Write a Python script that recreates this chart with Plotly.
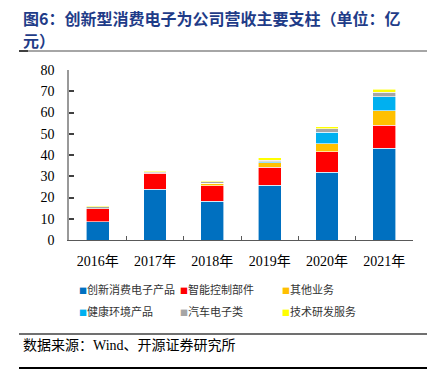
import plotly.graph_objects as go

years = ["2016年", "2017年", "2018年", "2019年", "2020年", "2021年"]
series_names = ["创新消费电子产品", "智能控制部件", "其他业务", "健康环境产品", "汽车电子类", "技术研发服务"]
consumer = [8.6, 23.8, 18.2, 25.7, 31.9, 43.1]
smart_ctrl = [6.0, 7.6, 7.4, 8.5, 9.7, 10.9]
other = [0.2, 0.2, 1.0, 2.2, 3.7, 6.8]
health = [0.0, 0.0, 0.1, 0.4, 5.4, 6.6]
auto = [0.9, 0.5, 0.6, 0.8, 1.7, 2.2]
rnd = [0.4, 0.6, 0.5, 1.0, 0.8, 1.3]
y_ticks = [0, 10, 20, 30, 40, 50, 60, 70, 80]

colors = ["#0070C0", "#FF0000", "#FFC000", "#00B0F0", "#A5A5A5", "#FFFF00"]
values = [consumer, smart_ctrl, other, health, auto, rnd]

# page has an 8px body margin; figure is sized so the whole page fits the window
OFF = 8
W, H = 435 - OFF, 374 - OFF
PL, PR, PT, PB = 69, 413, 70, 240          # plot area in screen pixels
L, R, T, B = PL - OFF, 435 - PR, PT - OFF, 374 - PB
pw, ph = PR - PL, PB - PT

def px(x):
    return (x - PL) / pw

def py(y):
    return (PB - y) / ph

fig = go.Figure()
for name, vals, col in zip(series_names, values, colors):
    fig.add_trace(go.Bar(x=years, y=vals, name=name,
                         marker=dict(color=col, line=dict(color="white", width=0.6)),
                         showlegend=False))

cjk = "Noto Sans CJK SC"
serif = "Liberation Serif, Noto Sans CJK SC"

legend_pos = [(82, 290), (183, 290), (285, 290), (82, 312), (183, 312), (285, 312)]
legend_layout = {}
for i, (name, col) in enumerate(zip(series_names, colors)):
    key = "legend" if i == 0 else f"legend{i + 1}"
    fig.add_trace(go.Scatter(
        x=[None], y=[None], mode="markers",
        marker=dict(size=1, color="rgba(0,0,0,0)"),
        name=f"<span style='color:{col};font-size:8px'>■</span>{name}",
        legend=key,
    ))
    lx, ly = legend_pos[i]
    legend_layout[key] = dict(x=px(lx - 43), y=py(ly), xanchor="left", yanchor="middle",
                              orientation="h", font=dict(family=cjk, size=11, color="#333333"),
                              bgcolor="rgba(0,0,0,0)", itemclick=False)

fig.update_layout(
    width=W, height=H,
    margin=dict(l=L, r=R, t=T, b=B, autoexpand=False),
    paper_bgcolor="white", plot_bgcolor="white",
    barmode="stack", bargap=0.6,
    showlegend=True,
    xaxis=dict(showline=True, linecolor="#595959", linewidth=1, ticks="inside", tickson="boundaries",
               ticklen=4, tickcolor="#595959", tickfont=dict(family=serif, size=14, color="#000000"),
               showgrid=False, ticklabelstandoff=8),
    yaxis=dict(range=[0, 80], tickvals=y_ticks, showline=True, linecolor="#999999", linewidth=1.5,
               ticks="inside", ticklen=5, tickcolor="#404040", tickwidth=1.5,
               tickfont=dict(family=serif, size=14, color="#000000"), showgrid=False, zeroline=False,
               ticklabelstandoff=10),
    **legend_layout,
)

title_col = "#1F3C88"
fig.add_annotation(xref="paper", yref="paper", x=px(21), y=py(18), xanchor="left", yanchor="middle",
                   text="<b>图6：创新型消费电子为公司营收主要支柱（单位：亿</b>", showarrow=False,
                   font=dict(family=cjk, size=16, color=title_col))
fig.add_annotation(xref="paper", yref="paper", x=px(21), y=py(40), xanchor="left", yanchor="middle",
                   text="<b>元）</b>", showarrow=False,
                   font=dict(family=cjk, size=16, color=title_col))
fig.add_annotation(xref="paper", yref="paper", x=px(21), y=py(345), xanchor="left", yanchor="middle",
                   text="数据来源：Wind、开源证券研究所", showarrow=False,
                   font=dict(family=serif, size=14, color="#000000"))

fig.add_shape(type="line", xref="paper", yref="paper", x0=px(19), x1=px(435), y0=py(51), y1=py(51),
              line=dict(color="#A6A6A6", width=2))
fig.add_shape(type="line", xref="paper", yref="paper", x0=px(19), x1=px(28), y0=py(51), y1=py(51),
              line=dict(color="#404040", width=2))
fig.add_shape(type="line", xref="paper", yref="paper", x0=px(19), x1=px(435), y0=py(334), y1=py(334),
              line=dict(color="#404040", width=1.5))
fig.add_shape(type="line", xref="paper", yref="paper", x0=px(19), x1=px(435), y0=py(368), y1=py(368),
              line=dict(color="#000000", width=2))

fig.write_html("out.html")
